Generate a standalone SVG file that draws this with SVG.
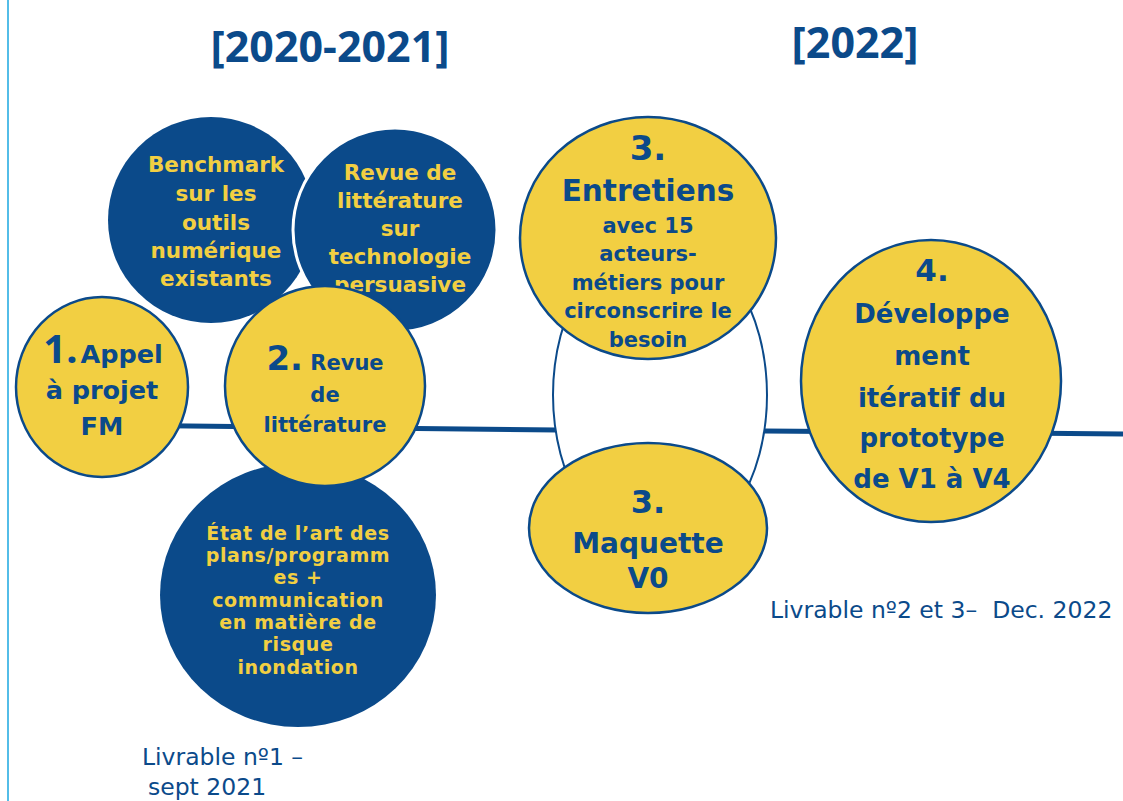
<svg xmlns="http://www.w3.org/2000/svg" width="1123" height="801" viewBox="0 0 1123 801">
<style>
.b{font-family:"DejaVu Sans","Noto Sans",sans-serif;font-weight:700;text-anchor:middle}
.t{font-family:"Noto Sans","DejaVu Sans",sans-serif;font-weight:700;text-anchor:middle}
.y{fill:#f2cf42}
.db{fill:#0b4a8a}
.yc{fill:#f2cf42;stroke:#0b4a8a;stroke-width:2.5}
.bc{fill:#0b4a8a}
.lv{font-family:"DejaVu Sans","Noto Sans",sans-serif;font-weight:400;fill:#0b4a8a;font-size:23.5px}
</style>
<rect width="1123" height="801" fill="#ffffff"/>
<line x1="8" y1="0" x2="8" y2="801" stroke="#1aa7e0" stroke-width="1.5"/>
<g id="titles">
<text class="t db" x="330" y="62" font-size="43">[2020-2021]</text>
<text class="t db" x="855" y="58" font-size="43">[2022]</text>
</g>
<g id="connectors">
<polyline points="100,425 557,430 765,431 1123,434" fill="none" stroke="#0b4a8a" stroke-width="5"/>
</g>
<g id="benchmark">
<circle class="bc" cx="211" cy="220" r="103"/>
<text class="b y" font-size="21.5"><tspan x="216" y="172">Benchmark</tspan><tspan x="216" y="201">sur les</tspan><tspan x="216" y="230">outils</tspan><tspan x="216" y="258">numérique</tspan><tspan x="216" y="286">existants</tspan></text>
</g>
<g id="revue-persuasive">
<circle class="bc" cx="395" cy="230" r="102" stroke="#ffffff" stroke-width="3"/>
<text class="b y" font-size="21.5"><tspan x="400" y="180">Revue de</tspan><tspan x="400" y="208">littérature</tspan><tspan x="400" y="236">sur</tspan><tspan x="400" y="264">technologie</tspan><tspan x="400" y="292">persuasive</tspan></text>
</g>
<g id="etat-art">
<ellipse class="bc" cx="298" cy="595" rx="138" ry="132"/>
<text class="b y" font-size="19" letter-spacing="0.6"><tspan x="298" y="540">État de l’art des</tspan><tspan x="298" y="562">plans/programm</tspan><tspan x="298" y="584">es +</tspan><tspan x="298" y="607">communication</tspan><tspan x="298" y="629">en matière de</tspan><tspan x="298" y="651">risque</tspan><tspan x="298" y="674">inondation</tspan></text>
</g>
<g id="step1">
<ellipse class="yc" cx="102" cy="387" rx="86" ry="90"/>
<text class="b db" x="103" y="363"><tspan class="t" font-size="40">1.</tspan><tspan font-size="25.5" dx="3">Appel</tspan></text>
<text class="b db" font-size="25.5"><tspan x="102" y="399">à projet</tspan><tspan x="102" y="435">FM</tspan></text>
</g>
<g id="step2">
<circle class="yc" cx="325" cy="386" r="100"/>
<text class="b db" x="325" y="370"><tspan font-size="34">2.</tspan><tspan font-size="21"> Revue</tspan></text>
<text class="b db" font-size="21"><tspan x="325" y="402">de</tspan><tspan x="325" y="432">littérature</tspan></text>
</g>
<g id="iteration">
<ellipse cx="660" cy="395" rx="107" ry="160" fill="#ffffff" stroke="#0b4a8a" stroke-width="2"/>
</g>
<g id="step3-entretiens">
<ellipse class="yc" cx="648" cy="238" rx="128" ry="121"/>
<text class="b db" x="648" y="160" font-size="34">3.</text>
<text class="b db" x="648" y="201" font-size="29.5">Entretiens</text>
<text class="b db" font-size="21"><tspan x="648" y="233">avec 15</tspan><tspan x="648" y="261">acteurs-</tspan><tspan x="648" y="290">métiers pour</tspan><tspan x="648" y="318">circonscrire le</tspan><tspan x="648" y="347">besoin</tspan></text>
</g>
<g id="step3-maquette">
<ellipse class="yc" cx="648" cy="528" rx="119" ry="85"/>
<text class="b db" x="648" y="513" font-size="32">3.</text>
<text class="b db" font-size="28"><tspan x="648" y="553">Maquette</tspan><tspan x="648" y="588">V0</tspan></text>
</g>
<g id="step4">
<ellipse class="yc" cx="931" cy="381" rx="130" ry="141"/>
<text class="b db" x="932" y="281" font-size="31">4.</text>
<text class="b db" font-size="26"><tspan x="932" y="323">Développe</tspan><tspan x="932" y="365">ment</tspan><tspan x="932" y="407">itératif du</tspan><tspan x="932" y="447">prototype</tspan><tspan x="932" y="488">de V1 à V4</tspan></text>
</g>
<g id="livrables">
<text class="lv" x="770" y="618" xml:space="preserve">Livrable nº2 et 3–  Dec. 2022</text>
<text class="lv"><tspan x="142" y="765">Livrable nº1 –</tspan><tspan x="148" y="795">sept 2021</tspan></text>
</g>
</svg>
